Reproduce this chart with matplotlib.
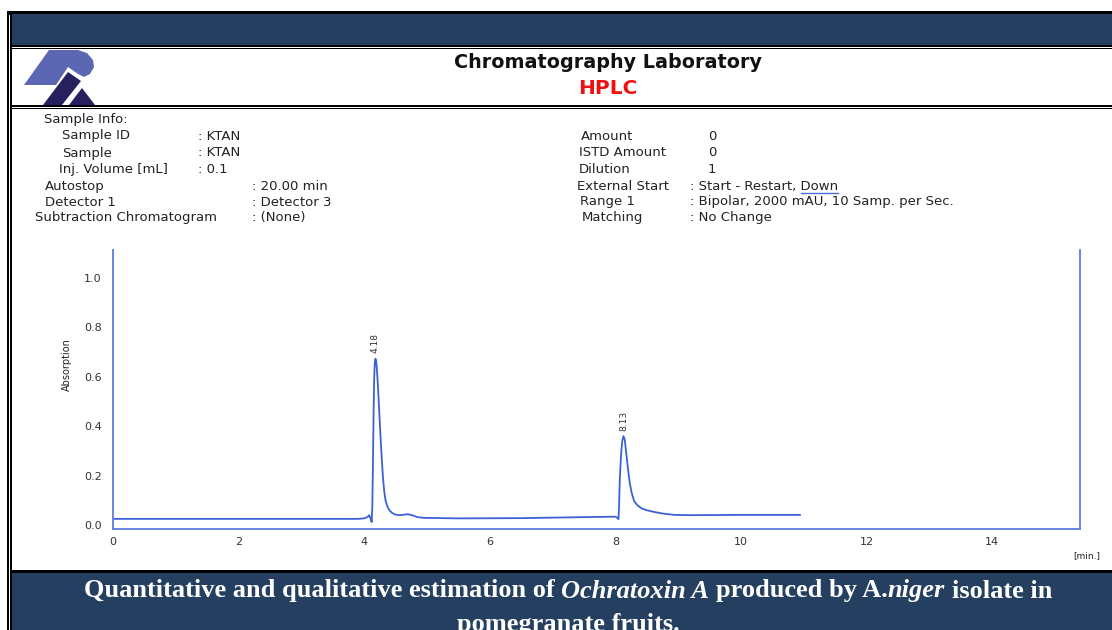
import matplotlib
matplotlib.use("Agg")
from matplotlib import pyplot as plt
from matplotlib.patches import Rectangle, Polygon
from matplotlib.lines import Line2D

# chromatogram trace (time in min, absorption)
times = [0.0, 1.0, 2.0, 3.0, 3.9, 4.0, 4.05, 4.08, 4.10, 4.12, 4.13, 4.14, 4.15,
         4.16, 4.17, 4.18, 4.19, 4.20, 4.22, 4.24, 4.26, 4.28, 4.30, 4.32, 4.34,
         4.37, 4.40, 4.44, 4.49, 4.55, 4.62, 4.69, 4.76, 4.85, 4.95, 5.5, 6.5,
         7.5, 8.0, 8.03, 8.05, 8.06, 8.07, 8.09, 8.11, 8.13, 8.15, 8.17, 8.20,
         8.23, 8.26, 8.30, 8.35, 8.42, 8.50, 8.60, 8.70, 8.80, 8.95, 9.2, 10.0,
         10.94]
absorb = [0.025, 0.025, 0.025, 0.025, 0.025, 0.027, 0.032, 0.040, 0.028, 0.012,
          0.08, 0.25, 0.45, 0.60, 0.66, 0.673, 0.665, 0.64, 0.56, 0.46, 0.36,
          0.27, 0.19, 0.135, 0.10, 0.075, 0.06, 0.05, 0.043, 0.040, 0.041, 0.044,
          0.040, 0.032, 0.029, 0.027, 0.028, 0.032, 0.034, 0.030, 0.024, 0.08,
          0.18, 0.28, 0.34, 0.36, 0.345, 0.30, 0.23, 0.17, 0.13, 0.097, 0.08,
          0.067, 0.060, 0.054, 0.049, 0.045, 0.041, 0.040, 0.041, 0.041]
peak_times = [4.18, 8.13]
peak_heights = [0.673, 0.36]
peak_labels = ["4.18", "8.13"]

info_left = [("Sample Info:", "", 44, 120, None),
             ("Sample ID", ": KTAN", 62, 136, 198),
             ("Sample", ": KTAN", 62, 153, 198),
             ("Inj. Volume [mL]", ": 0.1", 59, 170, 198),
             ("Autostop", ": 20.00 min", 45, 186, 252),
             ("Detector 1", ": Detector 3", 45, 202, 252),
             ("Subtraction Chromatogram", ": (None)", 35, 218, 252)]
info_right = [("Amount", "0", 581, 136, 708),
              ("ISTD Amount", "0", 579, 153, 708),
              ("Dilution", "1", 579, 170, 708),
              ("External Start", ": Start - Restart, Down", 577, 186, 690),
              ("Range 1", ": Bipolar, 2000 mAU, 10 Samp. per Sec.", 580, 202, 690),
              ("Matching", ": No Change", 582, 218, 690)]

W, H = 1112, 630
navy = "#243f5f"
trace_c = "#3d60d8"
spine_c = "#5b7ce2"


def px(x, y):
    return x / W, 1 - y / H


def rect(x0, y0, x1, y1, color):
    fig.add_artist(Rectangle(px(x0, y1), (x1 - x0) / W, (y1 - y0) / H,
                             transform=fig.transFigure, facecolor=color,
                             edgecolor="none", zorder=0))


fig = plt.figure(figsize=(W / 100, H / 100), dpi=100)
fig.patch.set_facecolor("white")
renderer = fig.canvas.get_renderer()

# frame / bands
rect(7.5, 10.5, W, 14.5, "black")
rect(12, 14.5, W, 45, navy)
rect(12, 45, W, 46.7, "black")
rect(12, 47.7, W, 49.2, "black")
rect(12, 105, W, 106.7, "black")
rect(12, 107.7, W, 109, "black")
rect(12, 570, W, 573, "black")
rect(12, 573, W, H, navy)
rect(7.3, 10.5, 9.3, H, "black")
rect(10.3, 10.5, 12, H, "black")

# logo
logo_light = [(24, 85), (49, 50), (78, 50), (87, 53), (93, 60), (94, 67),
              (90, 74), (84, 77), (78, 74), (68, 67), (56, 85)]
logo_dark1 = [(43, 105), (68, 72), (81, 81), (62, 105)]
logo_dark2 = [(69, 105), (82, 88), (95, 105)]
for pts, c in [(logo_light, "#5c67b3"), (logo_dark1, "#26215e"), (logo_dark2, "#26215e")]:
    fig.add_artist(Polygon([px(a, b) for a, b in pts], closed=True,
                           transform=fig.transFigure, facecolor=c,
                           edgecolor="none"))

# header titles
fig.text(*px(608, 63), "Chromatography Laboratory", ha="center", va="center",
         fontsize=13.8, weight="bold", color="#111111")
fig.text(*px(608, 88), "HPLC", ha="center", va="center",
         fontsize=14.5, weight="bold", color="#ee1111")

# sample info block
info_size = 9.5
for label, val, x, y, xv in info_left + info_right:
    fig.text(*px(x, y), label, va="center", fontsize=info_size, color="#222222")
    if val:
        tv = fig.text(*px(xv, y), val, va="center", fontsize=info_size,
                      color="#222222")
        if val.endswith("Down"):
            # spell-check underline under "Down"
            full = tv.get_window_extent(renderer).width
            probe = fig.text(0, 0, "Down", fontsize=info_size)
            wd = probe.get_window_extent(renderer).width
            probe.remove()
            fig.add_artist(Line2D([(xv + full - wd) / W, (xv + full) / W],
                                  [1 - (y + 6.5) / H] * 2,
                                  transform=fig.transFigure,
                                  color="#4a6fd8", lw=1))

# chromatogram
ax = fig.add_axes([113 / W, 1 - 529 / H, (1080 - 113) / W, (529 - 250) / H])
ax.plot(times, absorb, color=trace_c, lw=1.3)
for t, h, lab in zip(peak_times, peak_heights, peak_labels):
    ax.annotate(lab, (t, h), xytext=(0, 4), textcoords="offset points",
                rotation=90, ha="center", va="bottom", fontsize=6.5,
                color="#333333")
ax.set_xlim(0, 15.4)
ax.set_ylim(-0.016, 1.113)
ax.set_xticks([0, 2, 4, 6, 8, 10, 12, 14])
ax.set_yticks([0.0, 0.2, 0.4, 0.6, 0.8, 1.0])
ax.set_yticklabels(["0.0", "0.2", "0.4", "0.6", "0.8", "1.0"])
ax.tick_params(length=0, labelsize=8, labelcolor="#333333")
ax.tick_params(axis="y", pad=8)
ax.tick_params(axis="x", pad=6)
ax.spines["top"].set_visible(False)
for s in ["left", "bottom", "right"]:
    ax.spines[s].set_color(spine_c)
    ax.spines[s].set_linewidth(1.3)
ax.set_facecolor("none")
fig.text(*px(67, 365), "Absorption", rotation=90, ha="center", va="center",
         fontsize=7, color="#222222")
fig.text(*px(1087, 556), "[min.]", ha="center", va="center",
         fontsize=6.5, color="#222222")

# caption with mixed italic parts
cap_size = 19


def cap_text(s, style):
    return fig.text(0, 0, s, fontsize=cap_size, family="Liberation Serif",
                    weight="bold", style=style, color="white", va="center")


def rich_line(parts, xc, y):
    probe = cap_text("x x", "normal")
    gap = probe.get_window_extent(renderer).width
    probe.set_text("xx")
    gap -= probe.get_window_extent(renderer).width
    probe.remove()
    items, total = [], 0
    for s, style, space in parts:
        t = cap_text(s, style)
        w = t.get_window_extent(renderer).width + (gap if space else 0)
        items.append((t, w))
        total += w
    x = xc - total / 2
    for t, w in items:
        t.set_position(px(x, y))
        x += w


rich_line([("Quantitative and qualitative estimation of", "normal", True),
           ("Ochratoxin A", "italic", True),
           ("produced by A.", "normal", False),
           ("niger", "italic", True),
           ("isolate in", "normal", False)], 568, 591)
rich_line([("pomegranate fruits.", "normal", False)], 568, 624)

fig.savefig("out.png", dpi=100)
